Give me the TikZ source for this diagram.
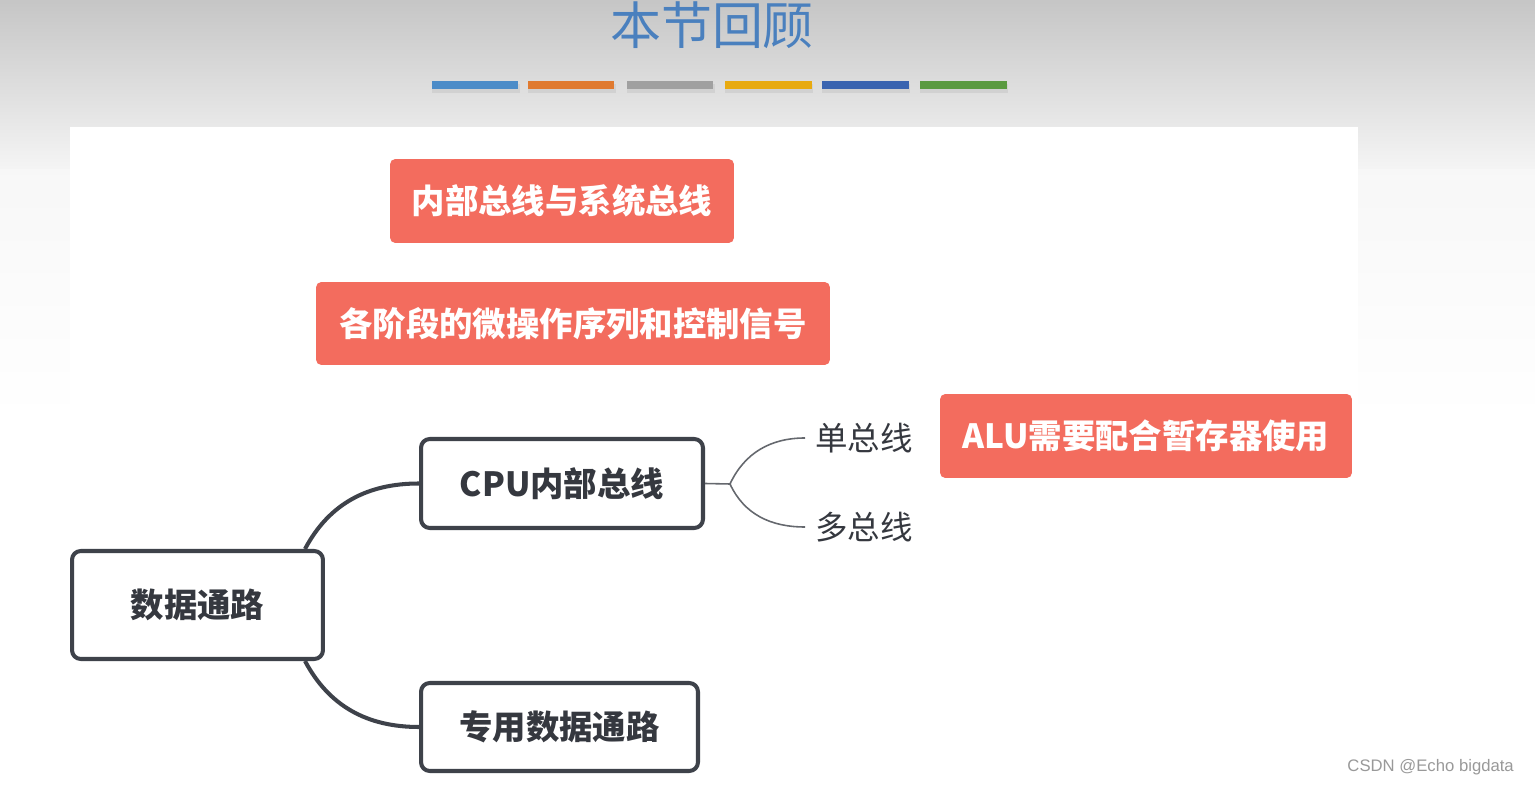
\documentclass[tikz,border=0pt]{standalone}
\usepackage{fontspec}
\setmainfont{Noto Sans CJK SC}
\newfontfamily\markfont{Liberation Sans}
\usetikzlibrary{calc}
\definecolor{slideRed}{RGB}{243,108,94}
\definecolor{slideInk}{RGB}{62,66,74}
\definecolor{titleBlue}{RGB}{74,128,190}
\definecolor{barBlue}{RGB}{76,140,200}
\definecolor{barOrange}{RGB}{224,122,48}
\definecolor{barGray}{RGB}{160,160,160}
\definecolor{barYellow}{RGB}{232,170,16}
\definecolor{barNavy}{RGB}{58,100,176}
\definecolor{barGreen}{RGB}{90,154,64}
\tikzset{
  redbox/.style={rounded corners=3pt,fill=slideRed,text=white,font=\fontsize{19}{22}\selectfont\bfseries,inner sep=0pt},
  mapbox/.style={rounded corners=5pt,draw=slideInk,fill=white,line width=2.3pt,text=slideInk!85!black,font=\fontsize{19}{22}\selectfont\bfseries,inner sep=0pt},
  branch/.style={draw=slideInk,line width=2.3pt},
  twig/.style={draw=slideInk!80,line width=0.9pt},
  leaf/.style={anchor=west,inner sep=0.2cm,text=slideInk!85!black,font=\fontsize{18.5}{22}\selectfont},
  colorbar/.style={minimum width=1.74cm,minimum height=0.16cm,inner sep=0pt}
}

\begin{document}
\begin{tikzpicture}[x=0.02cm,y=0.02cm]
\useasboundingbox (0,0) rectangle (1535,-786);
\shade[top color=gray!45,bottom color=gray!8] (0,0) rectangle (1535,-170);
\fill[gray!8] (0,-170) rectangle (1535,-786);
\shade[top color=gray!6,bottom color=white] (0,-170) rectangle (1535,-420);
\fill[white] (0,-420) rectangle (1535,-786);
\fill[white] (70,-127) rectangle (1358,-786);

\node[text=titleBlue,font=\fontsize{29}{32}\selectfont] (title) at (712,-25) {本节回顾};
\foreach \c/\xc in {barBlue/475,barOrange/571,barGray/670,barYellow/768,barNavy/865,barGreen/963}{
  \fill[black!18] (\xc-43,-84) rectangle (\xc+45,-93);
  \node[colorbar,fill=\c] at (\xc,-85) {};
}

\node[redbox,minimum width=6.88cm,minimum height=1.68cm] (bus) at (562,-201) {内部总线与系统总线};
\node[redbox,minimum width=10.28cm,minimum height=1.66cm] (seq) at (573,-323.5) {各阶段的微操作序列和控制信号};
\node[redbox,minimum width=8.24cm,minimum height=1.68cm] (alu) at (1146,-436) {ALU需要配合暂存器使用};

\node[mapbox,minimum width=5.02cm,minimum height=2.16cm] (path) at (197.5,-605) {数据通路};
\node[mapbox,minimum width=5.64cm,minimum height=1.78cm] (cpu) at (562,-483.5) {CPU内部总线};
\node[mapbox,minimum width=5.54cm,minimum height=1.76cm] (spec) at (559.5,-727) {专用数据通路};

\draw[branch] ([xshift=-0.4cm]path.north east) to[out=62,in=180] (cpu.west);
\draw[branch] ([xshift=-0.4cm]path.south east) to[out=-62,in=180] (spec.west);

\node[leaf] (single) at (805,-438) {单总线};
\node[leaf] (multi) at (805,-527) {多总线};
\coordinate (fork) at (730,-484);
\draw[twig] (cpu.east) -- (fork);
\draw[twig] (fork) to[out=65,in=180] (single.west);
\draw[twig] (fork) to[out=-65,in=180] (multi.west);

\node[anchor=east,text=gray!80,font=\markfont\fontsize{9.5}{11}\selectfont] (mark) at (1520,-767) {CSDN @Echo bigdata};
\end{tikzpicture}
\end{document}
